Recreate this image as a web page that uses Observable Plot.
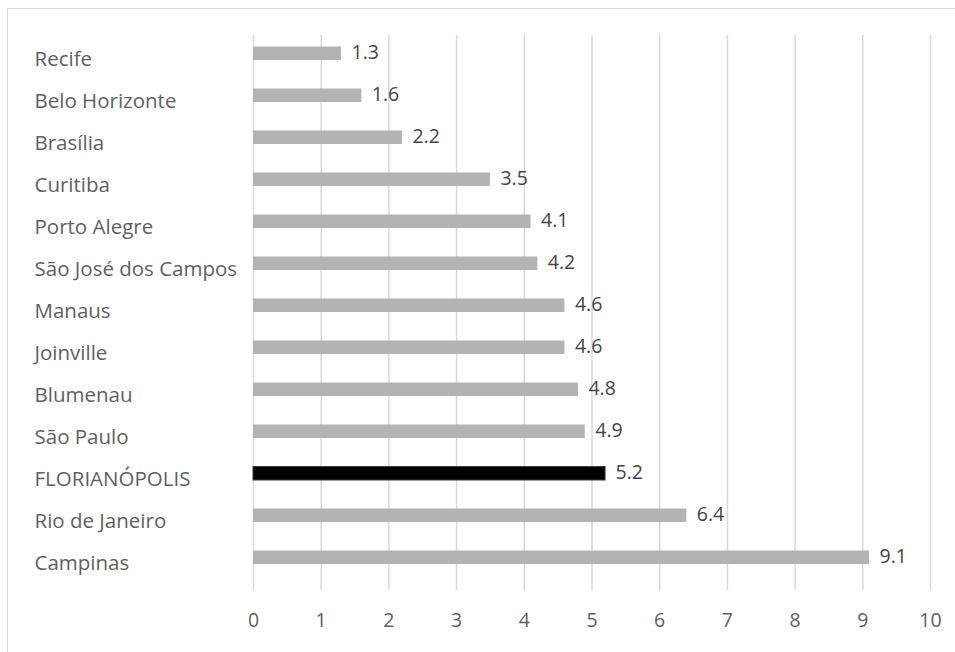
<!DOCTYPE html>
<html>
<head>
<meta charset="utf-8">
<script src="https://cdn.jsdelivr.net/npm/d3@7"></script>
<script src="https://cdn.jsdelivr.net/npm/@observablehq/plot@0.6"></script>
<style>
  html, body { margin: 0; padding: 0; background: #fff; }
  #wrap { position: relative; width: 955px; height: 652px; overflow: hidden; }
  #frame { position: absolute; left: 7px; top: 8px; width: 960px; height: 660px;
           border-left: 1.5px solid #d9d9d9; border-top: 1.5px solid #d9d9d9; }
  #chart { position: absolute; left: 0; top: 0; }
</style>
</head>
<body>
<div id="wrap"><div id="frame"></div><div id="chart"></div></div>
<script>
const cities = ["Recife", "Belo Horizonte", "Brasília", "Curitiba", "Porto Alegre",
  "São José dos Campos", "Manaus", "Joinville", "Blumenau", "São Paulo",
  "FLORIANÓPOLIS", "Rio de Janeiro", "Campinas"];
const values = [1.3, 1.6, 2.2, 3.5, 4.1, 4.2, 4.6, 4.6, 4.8, 4.9, 5.2, 6.4, 9.1];
const highlighted = ["FLORIANÓPOLIS"];
const xTicks = [0, 1, 2, 3, 4, 5, 6, 7, 8, 9, 10];

const data = cities.map((c, i) => ({city: c, value: values[i], hl: highlighted.includes(c)}));
const font = "'Open Sans', 'Noto Sans', sans-serif";

const chart = Plot.plot({
  width: 955,
  height: 652,
  marginLeft: 253,
  marginRight: 25,
  marginTop: 35,
  marginBottom: 62,
  style: {fontFamily: font, fontSize: "19.5px", color: "#5f5f5f", background: "transparent"},
  x: {domain: [0, 10], ticks: xTicks, tickSize: 0, tickPadding: 23, label: null},
  y: {domain: cities, padding: 0, axis: null},
  marks: [
    Plot.ruleX(xTicks, {stroke: "#d9d9d9", strokeWidth: 1.5}),
    Plot.barX(data, {x: "value", y: "city", fill: d => d.hl ? "#000000" : "#b3b3b3",
      stroke: d => d.hl ? "#3a3a3a" : "none", strokeWidth: 1,
      insetTop: 6.5, insetBottom: 22}),
    Plot.text(data, {x: "value", y: "city", text: d => d.value.toFixed(1), textAnchor: "start",
      dx: 10, dy: -8.5, fill: "#454545", fontSize: 19.5}),
    Plot.text(data, {y: "city", text: "city", frameAnchor: "left", textAnchor: "start",
      dx: -219, dy: -2, fill: "#5f5f5f", fontSize: 20.5})
  ]
});
document.getElementById("chart").appendChild(chart);
</script>
</body>
</html>
